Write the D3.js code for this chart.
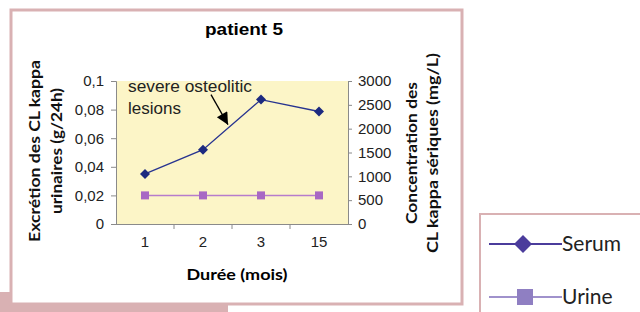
<!DOCTYPE html>
<html>
<head>
<meta charset="utf-8">
<script src="https://cdn.jsdelivr.net/npm/d3@7"></script>
<style>
  body { margin: 0; background: #fff; }
  svg { display: block; }
</style>
</head>
<body>
<div id="chart"></div>
<script>
// data
var months = ["1", "2", "3", "15"];
var serum = [1050, 1560, 2610, 2360];     // mg/L, right axis
var urine = [0.02, 0.02, 0.02, 0.02];     // g/24h, left axis
var leftTicks = [0, 0.02, 0.04, 0.06, 0.08, 0.1];
var rightTicks = [0, 500, 1000, 1500, 2000, 2500, 3000];

var W = 640, H = 312;
var plot = { left: 116, right: 348, top: 81, bottom: 224 };

var svg = d3.select("#chart").append("svg")
    .attr("width", W)
    .attr("height", H);

// page decorations: pink strip and frame
svg.append("rect")
    .attr("x", 0).attr("y", 292).attr("width", 228).attr("height", 20)
    .attr("fill", "#d9b1b3");
svg.append("rect")
    .attr("x", 11).attr("y", 10).attr("width", 451).attr("height", 294)
    .attr("fill", "#fff")
    .attr("stroke", "#d9b1b3")
    .attr("stroke-width", 3);

var x = d3.scaleBand().domain(months).range([plot.left, plot.right]).padding(0);
var yL = d3.scaleLinear().domain([0, 0.1]).range([plot.bottom, plot.top]);
var yR = d3.scaleLinear().domain([0, 3000]).range([plot.bottom, plot.top]);

svg.append("rect")
    .attr("x", plot.left).attr("y", plot.top)
    .attr("width", plot.right - plot.left).attr("height", plot.bottom - plot.top)
    .attr("fill", "#fcf5c7");

function commaFmt(d) {
    return String(d).replace(".", ",");
}

var gL = svg.append("g")
    .attr("transform", "translate(" + plot.left + ",0)")
    .call(d3.axisLeft(yL).tickValues(leftTicks).tickSize(5).tickPadding(7).tickFormat(commaFmt));

var gR = svg.append("g")
    .attr("transform", "translate(" + plot.right + ",0)")
    .call(d3.axisRight(yR).tickValues(rightTicks).tickSize(4).tickPadding(6).tickFormat(d3.format("d")));

var gX = svg.append("g")
    .attr("transform", "translate(0," + plot.bottom + ")")
    .call(d3.axisBottom(x).tickSize(0).tickPadding(12));

// x ticks sit on the band edges
gX.selectAll(".edge")
    .data(months.slice(1))
    .enter().append("line")
    .attr("class", "edge")
    .attr("x1", function (d) { return x(d); })
    .attr("x2", function (d) { return x(d); })
    .attr("y1", 0).attr("y2", 5)
    .attr("stroke", "#8a8a8a");

[gL, gR, gX].forEach(function (g) {
    g.selectAll("path, line").attr("stroke", "#8a8a8a");
    g.selectAll("text")
        .attr("fill", "#222")
        .style("font-family", "'Liberation Sans', Arial, sans-serif")
        .style("font-size", "15px");
});
gX.select(".domain").attr("d", "M" + (plot.left - 5) + ",0.5H" + plot.right);

var cx = function (d, i) { return x(months[i]) + x.bandwidth() / 2; };

// urine series
svg.append("path")
    .datum(urine)
    .attr("fill", "none")
    .attr("stroke", "#b67ccc")
    .attr("stroke-width", 1.5)
    .attr("d", d3.line().x(cx).y(function (d) { return yL(d); }));
svg.selectAll(".usq")
    .data(urine)
    .enter().append("rect")
    .attr("class", "usq")
    .attr("x", function (d, i) { return cx(d, i) - 4; })
    .attr("y", function (d) { return yL(d) - 4; })
    .attr("width", 8).attr("height", 8)
    .attr("fill", "#a868c4");

// serum series
svg.append("path")
    .datum(serum)
    .attr("fill", "none")
    .attr("stroke", "#283490")
    .attr("stroke-width", 1.3)
    .attr("d", d3.line().x(cx).y(function (d) { return yR(d); }));
svg.selectAll(".sdia")
    .data(serum)
    .enter().append("path")
    .attr("class", "sdia")
    .attr("transform", function (d, i) { return "translate(" + cx(d, i) + "," + yR(d) + ")"; })
    .attr("d", "M0,-5L5,0L0,5L-5,0Z")
    .attr("fill", "#1c2a80");

// annotation
var note = svg.append("text")
    .attr("x", plot.left + 12)
    .attr("y", plot.top + 11)
    .attr("fill", "#222")
    .style("font-family", "'Liberation Sans', Arial, sans-serif")
    .style("font-size", "16.5px");
note.append("tspan").text("severe osteolitic")
    .attr("textLength", 124).attr("lengthAdjust", "spacingAndGlyphs");
note.append("tspan").attr("x", plot.left + 12).attr("dy", 22).text("lesions")
    .attr("textLength", 53).attr("lengthAdjust", "spacingAndGlyphs");

svg.append("defs").append("marker")
    .attr("id", "ah")
    .attr("viewBox", "0 0 10 10")
    .attr("refX", 10).attr("refY", 5)
    .attr("markerWidth", 15).attr("markerHeight", 12)
    .attr("markerUnits", "userSpaceOnUse")
    .attr("orient", "auto")
    .append("path")
    .attr("d", "M0,0L10,5L0,10Z")
    .attr("fill", "#000");

// arrow points at the serum rise between months 2 and 3
var tipX = x("3") - 4, tipY = yR(2000) - 4;
svg.append("line")
    .attr("x1", tipX - 17).attr("y1", tipY - 30)
    .attr("x2", tipX).attr("y2", tipY)
    .attr("stroke", "#000")
    .attr("stroke-width", 1.3)
    .attr("marker-end", "url(#ah)");

// titles
var boldSans = "Lato, 'Open Sans', sans-serif";
svg.append("text")
    .attr("x", 244).attr("y", 35)
    .attr("text-anchor", "middle")
    .attr("textLength", 78).attr("lengthAdjust", "spacingAndGlyphs")
    .style("font-family", "'Liberation Sans', Arial, sans-serif")
    .style("font-weight", "bold")
    .style("font-size", "16px")
    .text("patient 5");

svg.append("text")
    .attr("x", 237).attr("y", 280)
    .attr("text-anchor", "middle")
    .attr("textLength", 101).attr("lengthAdjust", "spacingAndGlyphs")
    .style("font-family", boldSans)
    .style("font-weight", "bold")
    .style("font-size", "15.5px")
    .text("Durée (mois)");

function vTitle(cxp, cyp, lines, lens, gap) {
    var t = svg.append("text")
        .attr("transform", "translate(" + cxp + "," + cyp + ") rotate(-90)")
        .attr("text-anchor", "middle")
        .style("font-family", boldSans)
        .style("font-weight", "bold")
        .style("font-size", "15px")
        .attr("fill", "#111");
    lines.forEach(function (l, i) {
        t.append("tspan").attr("x", 0).attr("y", i * gap)
            .attr("textLength", lens[i]).attr("lengthAdjust", "spacingAndGlyphs")
            .text(l);
    });
}
vTitle(40, 151, ["Excrétion des CL kappa", "urinaires (g/24h)"], [182, 126], 22);
vTitle(417, 153, ["Concentration des", "CL kappa sériques  (mg/L)"], [142, 200], 21);

// legend
var legend = svg.append("g");
legend.append("rect")
    .attr("x", 480).attr("y", 214).attr("width", 170).attr("height", 110)
    .attr("fill", "#fff")
    .attr("stroke", "#d9b1b3")
    .attr("stroke-width", 2);

var legItems = [
    { name: "Serum", line: "#4b3c9c", mark: "#4b3c9c", shape: "M0,-9L9,0L0,9L-9,0Z" },
    { name: "Urine", line: "#a092cc", mark: "#8f7fc2", shape: "M-8,-8H8V8H-8Z" }
];
var li = legend.selectAll(".li")
    .data(legItems)
    .enter().append("g")
    .attr("class", "li")
    .attr("transform", function (d, i) { return "translate(0," + (244 + i * 53) + ")"; });
li.append("line")
    .attr("x1", 489).attr("x2", 562)
    .attr("stroke", function (d) { return d.line; })
    .attr("stroke-width", 2);
li.append("path")
    .attr("transform", function (d, i) { return "translate(" + (523 + i * 2) + ",0)"; })
    .attr("d", function (d) { return d.shape; })
    .attr("fill", function (d) { return d.mark; });
li.append("text")
    .attr("x", 562).attr("y", 7)
    .style("font-family", "Lato, sans-serif")
    .style("font-size", "21px")
    .attr("fill", "#222")
    .text(function (d) { return d.name; });
</script>
</body>
</html>
